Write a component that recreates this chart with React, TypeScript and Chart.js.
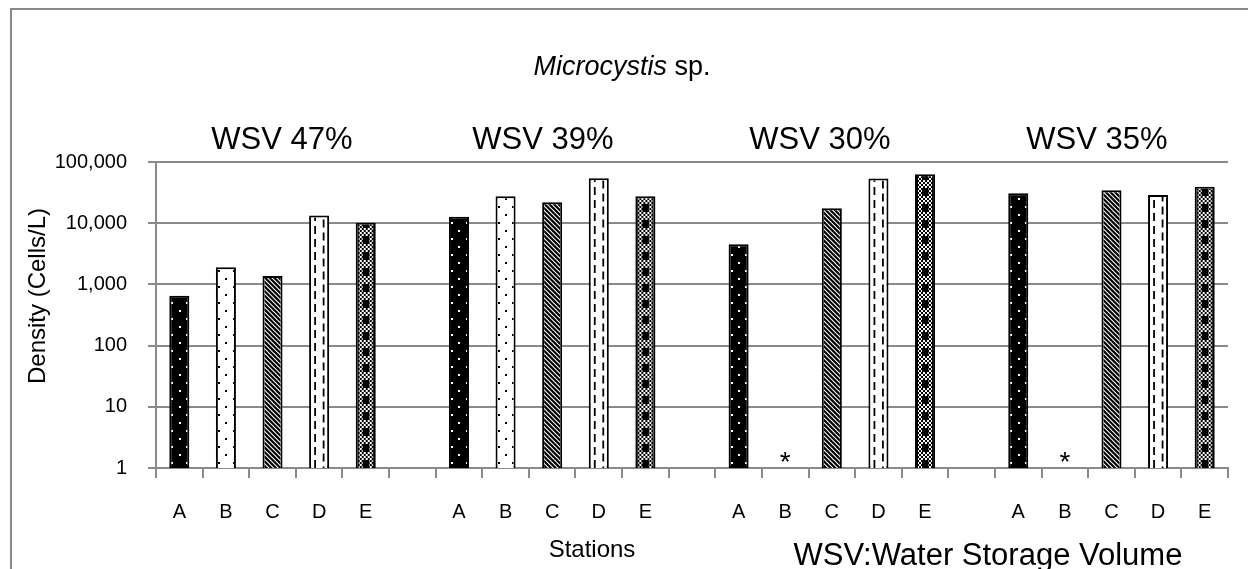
import React, { useEffect, useRef } from 'react';
import { Chart, registerables } from 'chart.js';

Chart.register(...registerables);

const FONT = '"Liberation Sans", Arial, Helvetica, sans-serif';
const GRAY = '#8a8a8a';

// ---- data ----
const stations = ['A', 'B', 'C', 'D', 'E'];
const groupTitles = ['WSV 47%', 'WSV 39%', 'WSV 30%', 'WSV 35%'];
const wsv47: (number | null)[] = [653, 1900, 1370, 13300, 10200];
const wsv39: (number | null)[] = [12700, 27600, 22000, 54300, 27600];
const wsv30: (number | null)[] = [4520, null, 17500, 53700, 63100];
const wsv35: (number | null)[] = [30900, null, 34500, 29000, 39300];
const yTickValues = [1, 10, 100, 1000, 10000, 100000];
const missingMark = '*';
const chartTitleItalic = 'Microcystis';
const chartTitleRest = ' sp.';
const yTitle = 'Density (Cells/L)';
const xTitle = 'Stations';
const footNote = 'WSV:Water Storage Volume';

const groups = [wsv47, wsv39, wsv30, wsv35];
const labels: string[] = [];
const values: (number | null)[] = [];
const stationIdx: number[] = [];
groups.forEach((g, gi) => {
  if (gi > 0) {
    labels.push('');
    values.push(null);
    stationIdx.push(-1);
  }
  g.forEach((v, si) => {
    labels.push(stations[si]);
    values.push(v);
    stationIdx.push(si);
  });
});

// title x-centres (pixels) for the group headers
const groupTitleX = [282, 543, 820, 1097];

function drawDots(ctx: CanvasRenderingContext2D, L: number, t: number, b: number, color: string) {
  ctx.fillStyle = color;
  for (let row = 0; ; row++) {
    const y = b - 5 - row * 8;
    if (y < t - 3) break;
    const xs = row % 2 === 0 ? [L + 3, L + 17.5] : [L + 10.3];
    xs.forEach((x) => ctx.fillRect(Math.round(x - 0.8), Math.round(y - 0.8), 2, 2));
  }
}

function drawPattern(ctx: CanvasRenderingContext2D, si: number, L: number, R: number, t: number, b: number) {
  const H = b - t;
  if (si === 0) {
    ctx.fillStyle = '#000';
    ctx.fillRect(L, t, R - L, H);
    drawDots(ctx, L, t, b, '#fff');
  } else if (si === 1) {
    ctx.fillStyle = '#fff';
    ctx.fillRect(L, t, R - L, H);
    drawDots(ctx, L, t, b, '#000');
  } else if (si === 2) {
    ctx.fillStyle = '#fff';
    ctx.fillRect(L, t, R - L, H);
    ctx.strokeStyle = '#000';
    ctx.lineWidth = 2.2;
    ctx.beginPath();
    for (let x = L - H - 10; x < R + 10; x += 4.6) {
      ctx.moveTo(x, t - 5);
      ctx.lineTo(x + H + 10, b + 5);
    }
    ctx.stroke();
  } else if (si === 3) {
    ctx.fillStyle = '#fff';
    ctx.fillRect(L, t, R - L, H);
    ctx.strokeStyle = '#000';
    ctx.lineWidth = 1.8;
    ctx.setLineDash([8, 5]);
    [[L + 6, 0], [L + 14.5, 6.5]].forEach(([x, off]) => {
      ctx.lineDashOffset = off;
      ctx.beginPath();
      ctx.moveTo(x, b);
      ctx.lineTo(x, t);
      ctx.stroke();
    });
    ctx.setLineDash([]);
  } else {
    ctx.fillStyle = '#fff';
    ctx.fillRect(L, t, R - L, H);
    ctx.fillStyle = '#000';
    let j = 0;
    for (let y = b - 2; y > t - 2; y -= 2, j++) {
      let i = 0;
      for (let x = L; x < R; x += 2, i++) {
        if ((i + j) % 2 === 0) ctx.fillRect(x, y, 2, 2);
      }
    }
    for (let k = 0; ; k++) {
      const yb = b - 16 * k;
      if (yb < t) break;
      ctx.fillRect(L + 7, yb - 8, 6.5, 8);
    }
    ctx.fillRect(L, t, 3, H);
    ctx.fillRect(R - 3, t, 3, H);
  }
}

const patternPlugin = {
  id: 'patternPlugin',
  beforeDraw(chart: any) {
    const ctx = chart.ctx as CanvasRenderingContext2D;
    ctx.save();
    ctx.fillStyle = '#fff';
    ctx.fillRect(0, 0, chart.width, chart.height);
    ctx.strokeStyle = GRAY;
    ctx.lineWidth = 2;
    ctx.beginPath();
    ctx.moveTo(11, chart.height + 10);
    ctx.lineTo(11, 9);
    ctx.lineTo(chart.width + 10, 9);
    ctx.stroke();
    ctx.restore();
  },
  afterDatasetsDraw(chart: any) {
    const ctx = chart.ctx as CanvasRenderingContext2D;
    const meta = chart.getDatasetMeta(0);
    const bw = 2;
    meta.data.forEach((el: any, i: number) => {
      const v = values[i];
      if (v === null || v === undefined) return;
      const L = el.x - el.width / 2;
      const R = el.x + el.width / 2;
      const top = el.y;
      const base = el.base;
      ctx.save();
      ctx.beginPath();
      ctx.rect(L + bw, top + bw, R - L - 2 * bw, base - top - bw);
      ctx.clip();
      drawPattern(ctx, stationIdx[i], L, R, top, base);
      ctx.restore();
    });
    // missing-sample marks
    const xs = chart.scales.x;
    ctx.save();
    ctx.fillStyle = '#000';
    ctx.font = `28px ${FONT}`;
    ctx.textAlign = 'center';
    ctx.textBaseline = 'alphabetic';
    values.forEach((v, i) => {
      if (stationIdx[i] >= 0 && v === null) {
        const m = ctx.measureText(missingMark);
        const cy = 456.5;
        const yb = cy + (m.actualBoundingBoxAscent - m.actualBoundingBoxDescent) / 2;
        ctx.fillText(missingMark, xs.getPixelForValue(i), yb);
      }
    });
    ctx.restore();
  },
  afterDraw(chart: any) {
    const ctx = chart.ctx as CanvasRenderingContext2D;
    ctx.save();
    ctx.fillStyle = '#000';
    ctx.textBaseline = 'alphabetic';
    // main title
    ctx.font = `italic 27px ${FONT}`;
    const w1 = ctx.measureText(chartTitleItalic).width;
    ctx.font = `27px ${FONT}`;
    const w2 = ctx.measureText(chartTitleRest).width;
    const sx = 622 - (w1 + w2) / 2;
    ctx.textAlign = 'left';
    ctx.font = `italic 27px ${FONT}`;
    ctx.fillText(chartTitleItalic, sx, 75);
    ctx.font = `27px ${FONT}`;
    ctx.fillText(chartTitleRest, sx + w1, 75);
    // group titles
    ctx.textAlign = 'center';
    ctx.font = `31px ${FONT}`;
    groupTitles.forEach((g, i) => ctx.fillText(g, groupTitleX[i], 149));
    // x title
    ctx.font = `24px ${FONT}`;
    ctx.fillText(xTitle, 592, 557);
    // footnote
    ctx.font = `31px ${FONT}`;
    ctx.fillText(footNote, 988, 565);
    // y title
    ctx.save();
    ctx.translate(38, 296);
    ctx.rotate(-Math.PI / 2);
    ctx.font = `24px ${FONT}`;
    ctx.textBaseline = 'middle';
    ctx.fillText(yTitle, 0, 0);
    ctx.restore();
    ctx.restore();
  },
};

export default function App() {
  const ref = useRef<HTMLCanvasElement>(null);
  useEffect(() => {
    const chart = new Chart(ref.current as HTMLCanvasElement, {
      type: 'bar',
      data: {
        labels,
        datasets: [
          {
            data: values as any,
            backgroundColor: 'rgba(0,0,0,0)',
            borderColor: '#000',
            borderWidth: 2,
            borderSkipped: false,
            barPercentage: 0.43,
            categoryPercentage: 1,
          },
        ],
      },
      options: {
        responsive: false,
        devicePixelRatio: 1,
        animation: false,
        layout: { padding: { top: 162, right: 20, left: 0, bottom: 0 } },
        plugins: {
          legend: { display: false },
          tooltip: { enabled: false },
          title: { display: false },
        },
        scales: {
          x: {
            type: 'category',
            grid: {
              offset: true,
              drawOnChartArea: false,
              drawTicks: true,
              tickLength: 10,
              color: GRAY,
              lineWidth: 2,
            },
            border: { color: GRAY, width: 2 },
            ticks: {
              color: '#000',
              font: { size: 20, family: FONT },
              padding: 22,
              autoSkip: false,
              maxRotation: 0,
            },
            afterFit: (s: any) => {
              s.height = 101;
            },
          },
          y: {
            type: 'logarithmic',
            min: 1,
            max: 100000,
            afterBuildTicks: (s: any) => {
              s.ticks = yTickValues.map((v) => ({ value: v }));
            },
            ticks: {
              color: '#000',
              font: { size: 20, family: FONT },
              padding: 21,
              callback: (v: any) => Number(v).toLocaleString('en-US'),
            },
            grid: { color: GRAY, lineWidth: 2, tickLength: 8, drawTicks: true },
            border: { color: GRAY, width: 2 },
            afterFit: (s: any) => {
              s.width = 156;
            },
          },
        },
      },
      plugins: [patternPlugin],
    } as any);
    return () => chart.destroy();
  }, []);
  return (
    <div
      style={{
        position: 'fixed',
        left: 0,
        top: 0,
        width: 1248,
        height: 569,
        overflow: 'hidden',
        background: '#fff',
      }}
    >
      <canvas ref={ref} width={1248} height={569} style={{ display: 'block', width: 1248, height: 569 }} />
    </div>
  );
}
